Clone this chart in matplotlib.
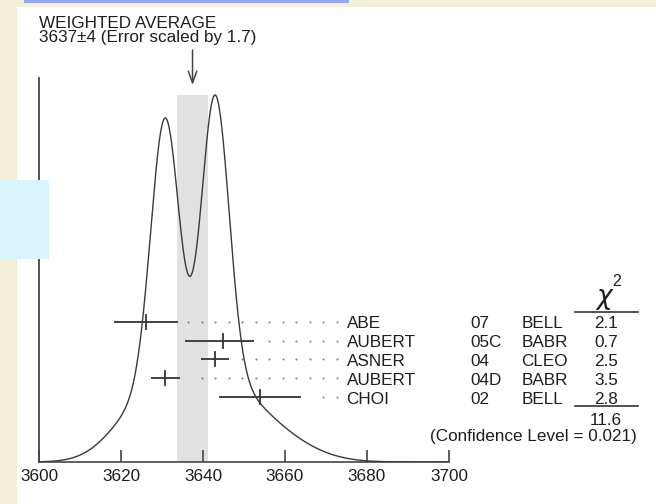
import numpy as np
import matplotlib
matplotlib.use("Agg")
import matplotlib.pyplot as plt
from matplotlib.patches import Rectangle
from matplotlib.lines import Line2D
import matplotlib.transforms as mtransforms

plt.rcParams['font.family'] = ['Liberation Sans', 'DejaVu Sans']

# ---------------- data ----------------
authors = ["ABE", "AUBERT", "ASNER", "AUBERT", "CHOI"]
years = ["07", "05C", "04", "04D", "02"]
experiments = ["BELL", "BABR", "CLEO", "BABR", "BELL"]
values = [3626.0, 3645.0, 3642.9, 3630.8, 3654.0]
err_lo = [7.8, 9.5, 3.4, 3.5, 10.0]
err_hi = [7.8, 7.4, 3.4, 3.5, 10.0]
chi2 = ["2.1", "0.7", "2.5", "3.5", "2.8"]
chi2_total = "11.6"
conf_level = "(Confidence Level = 0.021)"
avg_value = 3637.45
avg_error = 3.85
title1 = "WEIGHTED AVERAGE"
title2 = "3637\u00b14 (Error scaled by 1.7)"
xticks = [3600, 3620, 3640, 3660, 3680, 3700]

# ---------------- layout helpers ----------------
W, H = 656, 504
fig = plt.figure(figsize=(W / 100, H / 100), dpi=100)
fig.patch.set_facecolor("#f4edd7")

def fx(x):
    return x / W

def fy(y):
    return 1 - y / H

# white panel, top bar, cyan box
fig.add_artist(Rectangle((fx(17), 0), 1 - fx(17), fy(7), transform=fig.transFigure,
                         facecolor="white", edgecolor="none", zorder=-5))
fig.add_artist(Rectangle((fx(24), fy(2.5)), fx(349) - fx(24), fy(0) - fy(2.5),
                         transform=fig.transFigure, facecolor="#93a6ee",
                         edgecolor="none", zorder=-4))

ax_left, ax_right, ax_bottom, ax_top = 39, 449, 462, 78
ax = fig.add_axes([fx(ax_left), fy(ax_bottom), fx(ax_right) - fx(ax_left),
                   fy(ax_top) - fy(ax_bottom)])
ax.set_facecolor("none")
ax.set_xlim(3600, 3700)
ax.set_ylim(0, ax_bottom - ax_top)

dark = "#333333"
txt = "#1e1e1e"
fs = 12.3

# ideogram curve
xs = np.linspace(3600, 3700, 3000)
curve = np.zeros_like(xs)
for v, lo, hi in zip(values, err_lo, err_hi):
    s = np.where(xs < v, lo, hi)
    smean = 0.5 * (lo + hi)
    curve += np.exp(-0.5 * ((xs - v) / s) ** 2) / smean ** 2
peak_h = 367
curve = curve / curve.max() * peak_h

ax.axvspan(avg_value - avg_error, avg_value + avg_error, ymin=0, ymax=peak_h / (ax_bottom - ax_top),
           color="#e1e1e1", lw=0, zorder=1)
ax.plot(xs, curve, color="#3a3a3a", lw=1.0, zorder=3)

# rows
row0 = ax_bottom - 321.7
row_step = 18.8
tick_half = 7
dot_end = 3672.6
dot_step = 3.29
dot_gap = 2.2
rows_y = [row0 - i * row_step for i in range(len(values))]
for i, (v, lo, hi) in enumerate(zip(values, err_lo, err_hi)):
    y = rows_y[i]
    ax.plot([v - lo, v + hi], [y, y], color=dark, lw=1.3, zorder=4, solid_capstyle="butt")
    ax.plot([v, v], [y - tick_half, y + tick_half], color=dark, lw=1.3, zorder=4)
    dots = [dot_end - k * dot_step for k in range(40)]
    dots = [d for d in dots if d > v + hi + dot_gap]
    ax.plot(dots, [y] * len(dots), ls="none", marker="o", ms=1.5, mew=0,
            color="#808080", zorder=2)

# axes styling
for side in ("top", "right"):
    ax.spines[side].set_visible(False)
ax.spines["left"].set_color("#444444")
ax.spines["left"].set_linewidth(1.3)
ax.spines["bottom"].set_color("#444444")
ax.spines["bottom"].set_linewidth(1.2)
ax.set_yticks([])
ax.set_xticks(xticks)
ax.set_xticklabels([str(t) for t in xticks])
ax.tick_params(axis="x", direction="in", length=8.5, width=1.2, color="#444444",
               pad=5, labelsize=fs, labelcolor=txt)

# arrow at weighted average
ax.annotate("", xy=(avg_value, ax_bottom - 85), xytext=(avg_value, ax_bottom - 50),
            arrowprops=dict(arrowstyle="->,head_length=0.6,head_width=0.22",
                            color="#444444", lw=1.1, mutation_scale=14,
                            shrinkA=0, shrinkB=0),
            annotation_clip=False)

# row labels
trans = mtransforms.blended_transform_factory(fig.transFigure, ax.transData)
base_off = -6.6
for i in range(len(values)):
    yb = rows_y[i] + base_off
    ax.text(fx(346.5), yb, authors[i], transform=trans, fontsize=fs, color=txt,
            va="baseline", ha="left", clip_on=False)
    ax.text(fx(470), yb, years[i], transform=trans, fontsize=fs, color=txt,
            va="baseline", ha="left", clip_on=False)
    ax.text(fx(521.5), yb, experiments[i], transform=trans, fontsize=fs, color=txt,
            va="baseline", ha="left", clip_on=False)
    ax.text(fx(606), yb, chi2[i], transform=trans, fontsize=fs, color=txt,
            va="baseline", ha="center", clip_on=False)

# chi2 header and rules
fig.text(fx(604.5), fy(304), r"$\chi$", fontsize=19, color=txt, ha="center", va="baseline")
fig.text(fx(612), fy(285.5), "2", fontsize=11.5, color=txt, ha="left", va="baseline")
fig.add_artist(Line2D([fx(575), fx(638)], [fy(311.7)] * 2, color="#333333", lw=1.2))
fig.add_artist(Line2D([fx(575), fx(638)], [fy(406)] * 2, color="#333333", lw=1.2))
fig.text(fx(606), fy(425), chi2_total, fontsize=fs, color=txt, ha="center", va="baseline")
fig.text(fx(637), fy(441.5), conf_level, fontsize=fs, color=txt, ha="right", va="baseline")

# titles
fig.text(fx(39), fy(28.3), title1, fontsize=fs, color=txt, ha="left", va="baseline")
fig.text(fx(39), fy(42.3), title2, fontsize=fs, color=txt, ha="left", va="baseline")

# cyan box on top
fig.add_artist(Rectangle((0, fy(259)), fx(49), fy(180) - fy(259), transform=fig.transFigure,
                         facecolor="#daf4fe", edgecolor="none", zorder=20))

fig.savefig("out.png", dpi=100, facecolor=fig.get_facecolor())
